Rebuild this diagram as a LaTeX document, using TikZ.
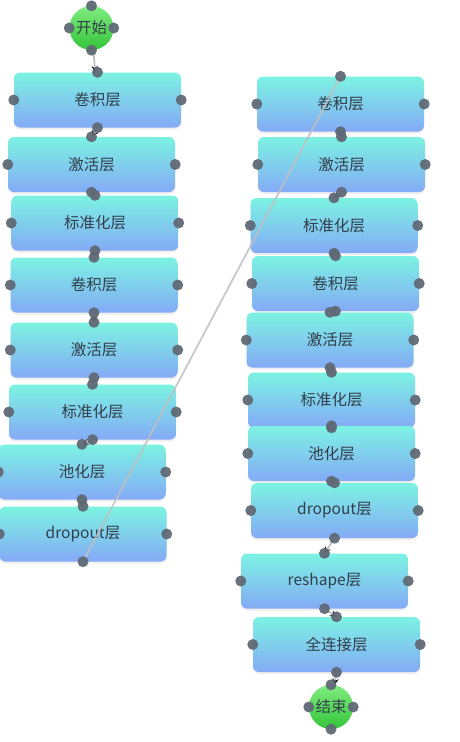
\documentclass[tikz,border=0pt]{standalone}
\usepackage{fontspec}
\newfontfamily\cjk{Noto Sans CJK SC}
\usetikzlibrary{shadows}

\definecolor{boxtop}{RGB}{124,243,226}
\definecolor{boxbot}{RGB}{132,170,246}
\definecolor{gtop}{RGB}{128,236,128}
\definecolor{gbot}{RGB}{52,196,58}
\definecolor{portc}{RGB}{96,106,118}
\definecolor{linkc}{RGB}{192,192,192}
\definecolor{txt}{RGB}{50,62,74}

\begin{document}
\begin{tikzpicture}[%
    x=1pt, y=-1pt,
    >=stealth,
    layer/.style={rectangle, rounded corners=6pt, minimum width=167pt,
      minimum height=55pt, inner sep=0pt, top color=boxtop, bottom color=boxbot,
      drop shadow={opacity=0.12, shadow xshift=0pt, shadow yshift=-2pt},
      text=txt, font=\cjk\fontsize{15.5}{17}\selectfont},
    term/.style={circle, minimum size=44pt, inner sep=0pt, top color=gtop,
      bottom color=gbot, text=txt, font=\cjk\fontsize{15.5}{17}\selectfont},
    port/.style={fill=portc, fill opacity=0.95},
    link/.style={->, draw=linkc, line width=1.8pt}
  ]
    \useasboundingbox[fill=white] (0,0) rectangle (459,742);

    % left column
    \node[term] (S) at (91.5,28) {开始};
    \node[layer] (L1) at (97.5,100) {卷积层};
    \node[layer] (L2) at (91.5,164.5) {激活层};
    \node[layer] (L3) at (95,223) {标准化层};
    \node[layer] (L4) at (94,285) {卷积层};
    \node[layer] (L5) at (94,350) {激活层};
    \node[layer] (L6) at (92.5,412) {标准化层};
    \node[layer] (L7) at (82,472) {池化层};
    \node[layer] (L8) at (83,534) {dropout层};

    % right column
    \node[layer] (R1) at (340.5,104) {卷积层};
    \node[layer] (R2) at (341.5,164.5) {激活层};
    \node[layer] (R3) at (334,225.5) {标准化层};
    \node[layer] (R4) at (335.5,283.5) {卷积层};
    \node[layer] (R5) at (330,340) {激活层};
    \node[layer] (R6) at (331.5,400) {标准化层};
    \node[layer] (R7) at (331.5,453.5) {池化层};
    \node[layer] (R8) at (334.5,510.5) {dropout层};
    \node[layer] (R9) at (324.5,581) {reshape层};
    \node[layer] (R10) at (336.5,644.5) {全连接层};
    \node[term] (E) at (331,707) {结束};

    \path[link]
              (S)   edge (L1)
              (L1.south) edge (L2.north)
              (L2.south) edge (L3.north)
              (L3.south) edge (L4.north)
              (L4.south) edge (L5.north)
              (L5.south) edge (L6.north)
              (L6.south) edge (L7.north)
              (L7.south) edge (L8.north)
              (R1.south) edge (R2.north)
              (R2.south) edge (R3.north)
              (R3.south) edge (R4.north)
              (R4.south) edge (R5.north)
              (R5.south) edge (R6.north)
              (R6.south) edge (R7.north)
              (R7.south) edge (R8.north)
              (R8.south) edge (R9.north)
              (R9.south) edge (R10.north)
              (R10.south) edge (E);

    \draw[link, draw opacity=0.85] (L8.south) -- (R1.north);

    % ports
    \foreach \n in {S,E,L1,L2,L3,L4,L5,L6,L7,L8,R1,R2,R3,R4,R5,R6,R7,R8,R9,R10}
      \foreach \a in {north,south,east,west}
        \fill[port] (\n.\a) circle (5.5pt);
  \end{tikzpicture}
\end{document}
